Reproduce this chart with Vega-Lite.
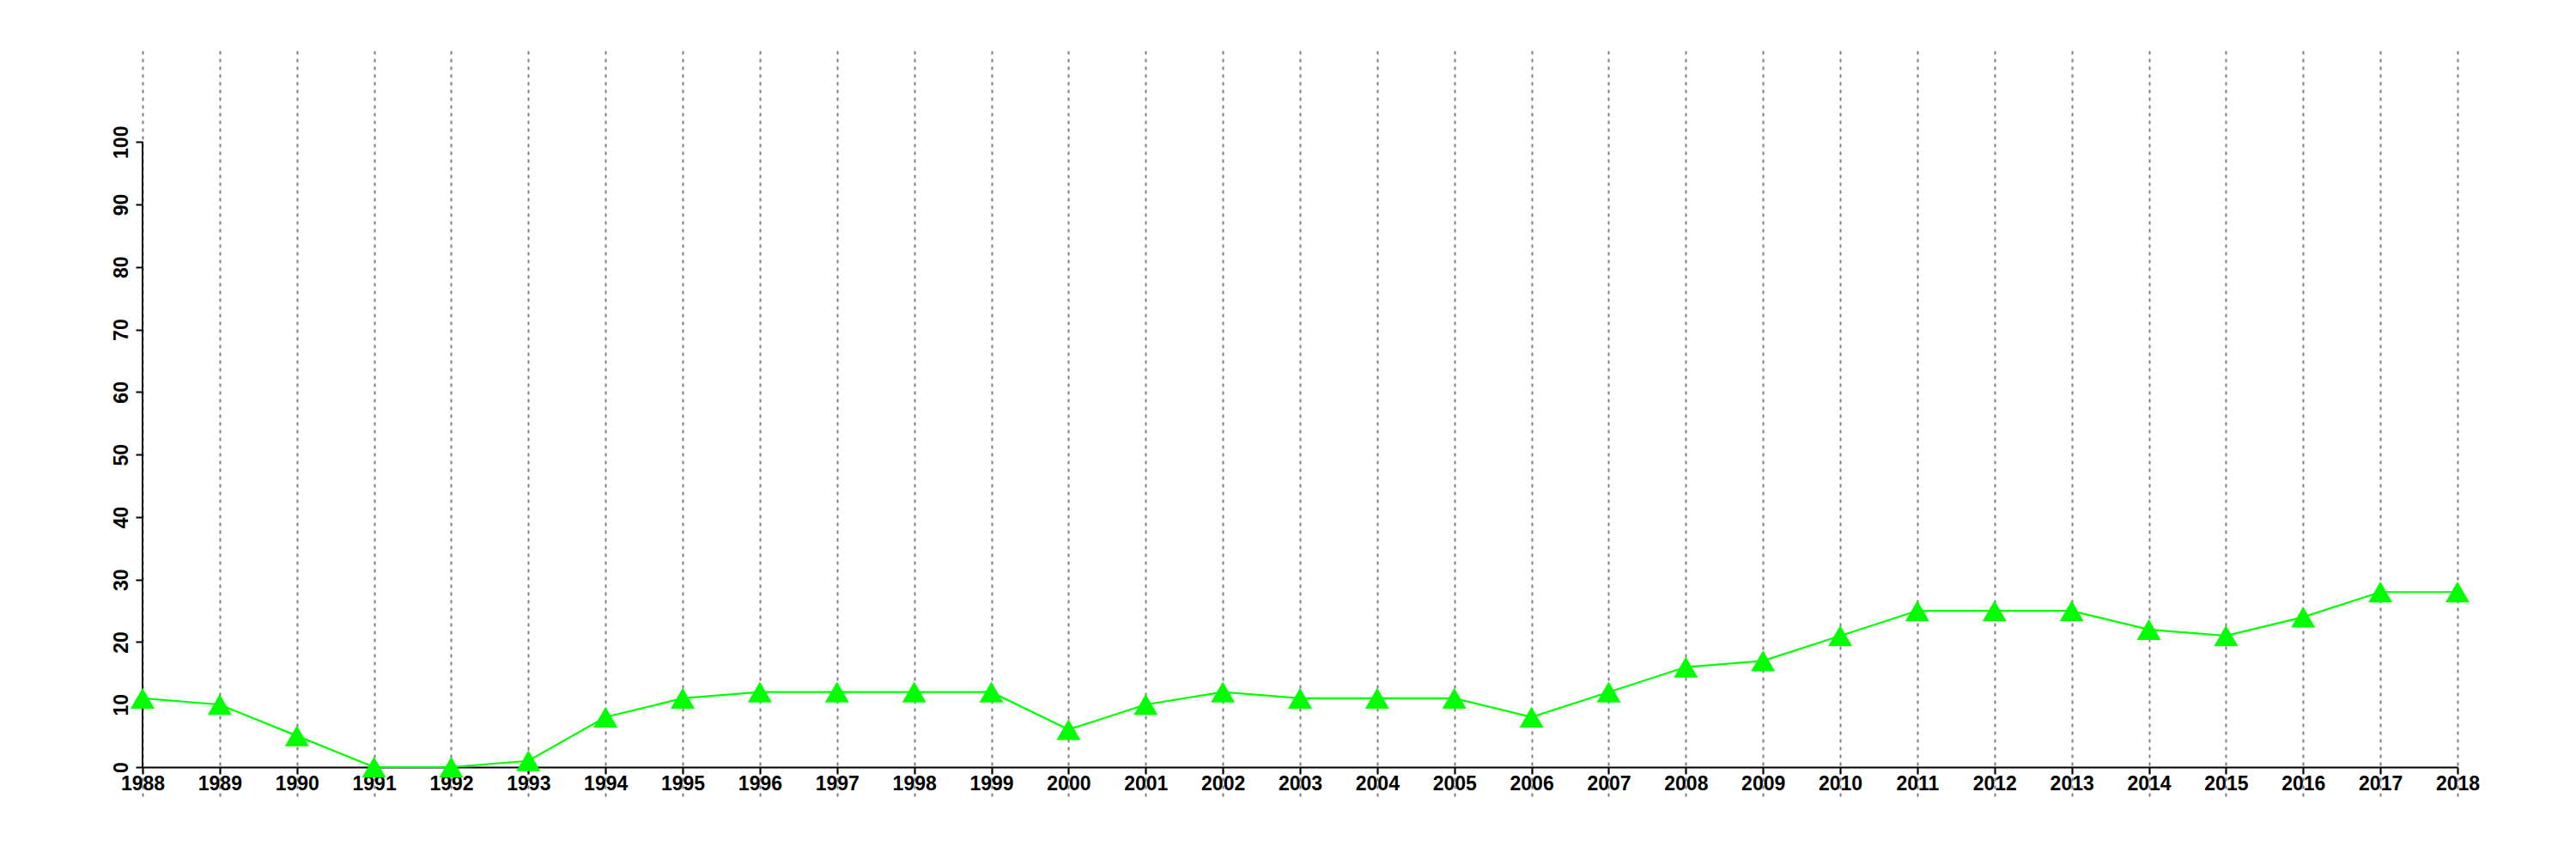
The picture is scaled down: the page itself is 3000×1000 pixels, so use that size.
{
  "$schema": "https://vega.github.io/schema/vega-lite/v6.json",
  "width": 2696,
  "height": 868,
  "autosize": {"type": "none"},
  "padding": {"left": 166, "top": 59, "right": 138, "bottom": 73},
  "background": "white",
  "config": {"view": {"stroke": null}, "font": "Liberation Sans"},
  "data": {"values": [
    {"year": 1988, "value": 11}, {"year": 1989, "value": 10}, {"year": 1990, "value": 5},
    {"year": 1991, "value": 0}, {"year": 1992, "value": 0}, {"year": 1993, "value": 1},
    {"year": 1994, "value": 8}, {"year": 1995, "value": 11}, {"year": 1996, "value": 12},
    {"year": 1997, "value": 12}, {"year": 1998, "value": 12}, {"year": 1999, "value": 12},
    {"year": 2000, "value": 6}, {"year": 2001, "value": 10}, {"year": 2002, "value": 12},
    {"year": 2003, "value": 11}, {"year": 2004, "value": 11}, {"year": 2005, "value": 11},
    {"year": 2006, "value": 8}, {"year": 2007, "value": 12}, {"year": 2008, "value": 16},
    {"year": 2009, "value": 17}, {"year": 2010, "value": 21}, {"year": 2011, "value": 25},
    {"year": 2012, "value": 25}, {"year": 2013, "value": 25}, {"year": 2014, "value": 22},
    {"year": 2015, "value": 21}, {"year": 2016, "value": 24}, {"year": 2017, "value": 28},
    {"year": 2018, "value": 28}
  ]},
  "encoding": {
    "x": {
      "field": "year", "type": "quantitative",
      "scale": {"domain": [1988, 2018], "nice": false, "zero": false},
      "axis": {
        "title": null, "format": "d",
        "values": [1988,1989,1990,1991,1992,1993,1994,1995,1996,1997,1998,1999,2000,2001,2002,2003,2004,2005,2006,2007,2008,2009,2010,2011,2012,2013,2014,2015,2016,2017,2018],
        "offset": -34,
        "domainColor": "black", "domainWidth": 2,
        "tickColor": "black", "tickWidth": 2, "tickSize": 8,
        "labelFont": "Liberation Sans", "labelFontWeight": "bold", "labelFontSize": 23,
        "labelColor": "black", "labelPadding": 0, "labelFlush": false, "labelOverlap": false,
        "grid": true, "gridColor": "#808080", "gridDash": [4, 5], "gridWidth": 2
      }
    },
    "y": {
      "field": "value", "type": "quantitative",
      "scale": {"domain": [-4.67, 114.6], "nice": false, "zero": false},
      "axis": {
        "title": null, "values": [0,10,20,30,40,50,60,70,80,90,100],
        "domain": false, "grid": false,
        "tickColor": "black", "tickWidth": 2, "tickSize": 8,
        "labelFont": "Liberation Sans", "labelFontWeight": "bold", "labelFontSize": 23,
        "labelColor": "black", "labelAngle": -90, "labelAlign": "center", "labelBaseline": "bottom",
        "labelPadding": 5, "labelOverlap": false
      }
    }
  },
  "layer": [
    {
      "mark": {"type": "rule", "color": "black", "strokeWidth": 2},
      "encoding": {
        "x": {"datum": 1988, "type": "quantitative"},
        "y": {"datum": 0, "type": "quantitative"},
        "y2": {"datum": 100}
      }
    },
    {
      "mark": {"type": "line", "color": "#00FF00", "strokeWidth": 2.2}
    },
    {
      "mark": {"type": "point", "shape": "triangle-up", "filled": true, "color": "#00FF00", "opacity": 1, "size": 784}
    }
  ]
}
